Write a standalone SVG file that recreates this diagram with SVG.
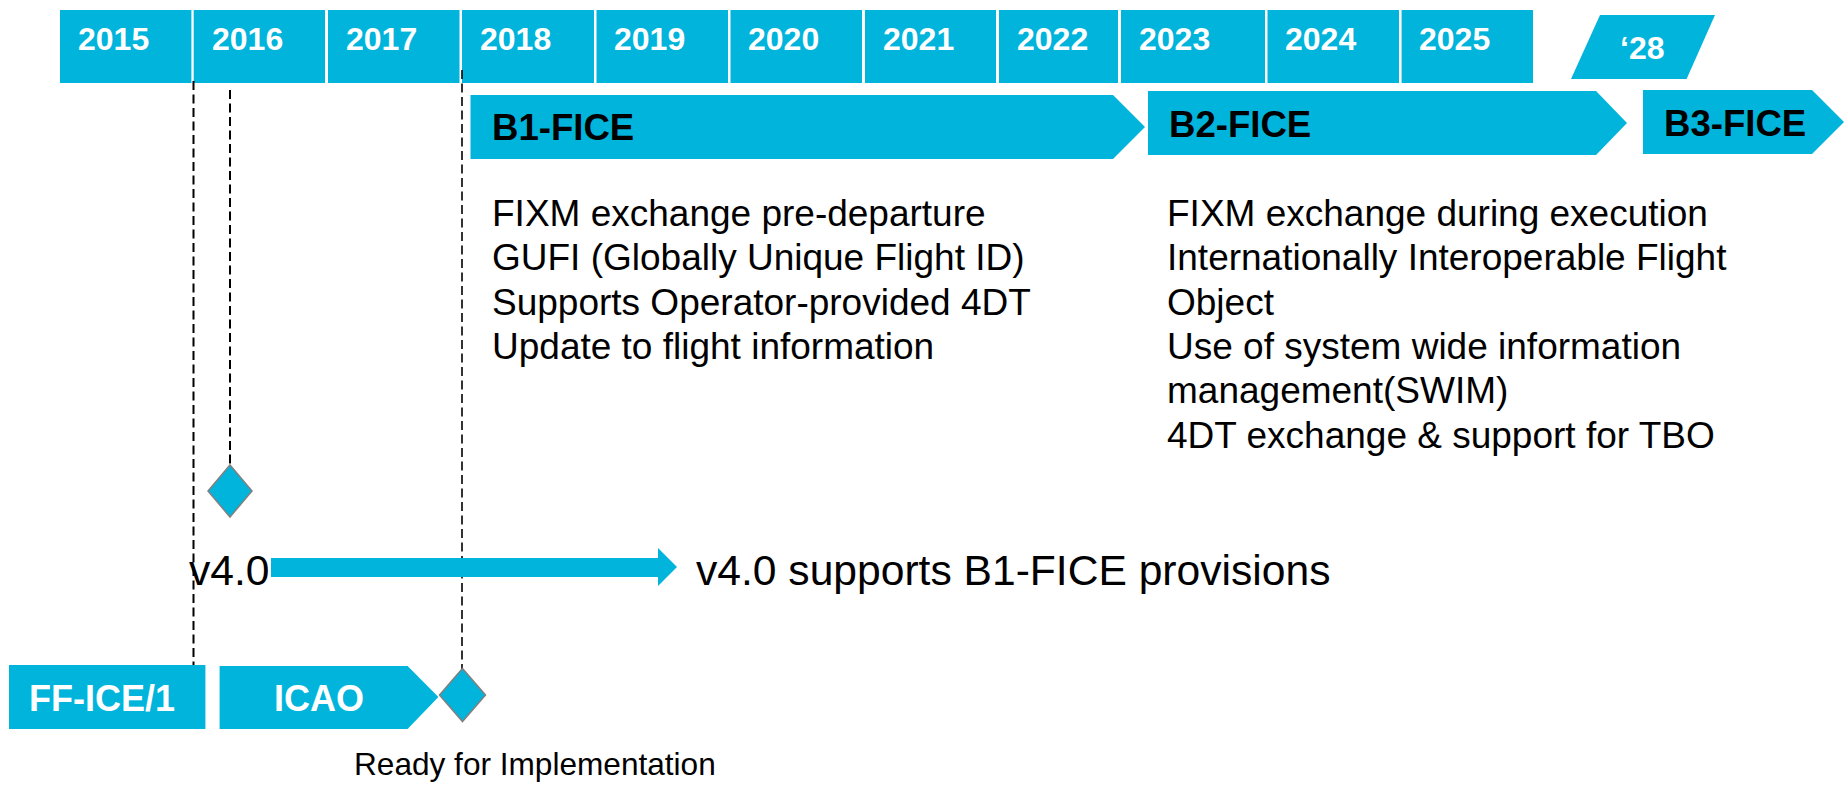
<svg xmlns="http://www.w3.org/2000/svg" width="1845" height="785" viewBox="0 0 1845 785">
<style>
.f{fill:#00b4dc}
.yr{font-family:"Liberation Sans",Arial,sans-serif;font-weight:bold;font-size:32px;fill:#fff}
.lbl{font-family:"Liberation Sans",Arial,sans-serif;font-weight:bold;font-size:36.6px;fill:#000}
.wl{font-family:"Liberation Sans",Arial,sans-serif;font-weight:bold;font-size:36px;fill:#fff}
.body{font-family:"Liberation Sans",Arial,sans-serif;font-size:37px;fill:#000}
.big{font-family:"Liberation Sans",Arial,sans-serif;font-size:42.6px;fill:#000}
.sm{font-family:"Liberation Sans",Arial,sans-serif;font-size:31.6px;fill:#000}
.dash{stroke:#000;stroke-width:2;stroke-dasharray:9 4.5;fill:none}
.dia{fill:#00b4dc;stroke:#808080;stroke-width:1.5}
</style>
<rect width="1845" height="785" fill="#fff"/>
<g id="years">
<rect class="f" x="60" y="10" width="131.4" height="73"/><text class="yr" x="78" y="50">2015</text>
<rect class="f" x="193.7" y="10" width="131.3" height="73"/><text class="yr" x="212" y="50">2016</text>
<rect class="f" x="328" y="10" width="131.5" height="73"/><text class="yr" x="346" y="50">2017</text>
<rect class="f" x="462" y="10" width="132" height="73"/><text class="yr" x="480" y="50">2018</text>
<rect class="f" x="596.5" y="10" width="131.5" height="73"/><text class="yr" x="614" y="50">2019</text>
<rect class="f" x="730.5" y="10" width="131.5" height="73"/><text class="yr" x="748" y="50">2020</text>
<rect class="f" x="865" y="10" width="131" height="73"/><text class="yr" x="883" y="50">2021</text>
<rect class="f" x="999" y="10" width="119" height="73"/><text class="yr" x="1017" y="50">2022</text>
<rect class="f" x="1121" y="10" width="144" height="73"/><text class="yr" x="1139" y="50">2023</text>
<rect class="f" x="1267.5" y="10" width="131.5" height="73"/><text class="yr" x="1285" y="50">2024</text>
<rect class="f" x="1401.6" y="10" width="131.4" height="73"/><text class="yr" x="1419" y="50">2025</text>
</g>
<g id="y28">
<polygon class="f" points="1600,15 1715,15 1686.6,79 1571,79"/>
<text class="yr" x="1620" y="59">‘28</text>
</g>
<g id="connectors">
<line class="dash" x1="193.5" y1="81" x2="193.5" y2="665"/>
<line class="dash" x1="230" y1="90" x2="230" y2="465"/>
<line class="dash" x1="462" y1="70" x2="462" y2="682" style="stroke-width:1.6"/>
<polygon class="f" points="271,558 658,558 658,548 677,567 658,586 658,577 271,577"/>
</g>
<g id="b1">
<polygon class="f" points="470.5,95 1113,95 1145,127 1113,159 470.5,159"/>
<text class="lbl" x="492" y="140">B1-FICE</text>
<text class="body" x="492" y="226">FIXM exchange pre-departure</text>
<text class="body" x="492" y="270.3">GUFI (Globally Unique Flight ID)</text>
<text class="body" x="492" y="314.6">Supports Operator-provided 4DT</text>
<text class="body" x="492" y="358.9">Update to flight information</text>
</g>
<g id="b2">
<polygon class="f" points="1148,91 1596,91 1627,123 1596,155 1148,155"/>
<text class="lbl" x="1169" y="137">B2-FICE</text>
<text class="body" x="1167" y="226">FIXM exchange during execution</text>
<text class="body" x="1167" y="270.3">Internationally Interoperable Flight</text>
<text class="body" x="1167" y="314.6">Object</text>
<text class="body" x="1167" y="358.9">Use of system wide information</text>
<text class="body" x="1167" y="403.2">management(SWIM)</text>
<text class="body" x="1167" y="447.5">4DT exchange &amp; support for TBO</text>
</g>
<g id="b3">
<polygon class="f" points="1643,90 1812,90 1844,122 1812,154 1643,154"/>
<text class="lbl" x="1664" y="136">B3-FICE</text>
</g>
<g id="m2016">
<polygon class="dia" points="230,465 252,491 230,517 208,491"/>
</g>
<g id="v40">
<text class="big" x="189" y="585">v4.0</text>
<text class="big" x="696" y="585">v4.0 supports B1-FICE provisions</text>
</g>
<g id="ffice">
<rect class="f" x="9" y="665" width="196.4" height="64"/>
<text class="wl" x="29" y="711">FF-ICE/1</text>
</g>
<g id="icao">
<polygon class="f" points="219.6,666 407.6,666 438.4,697 407.6,729 219.6,729"/>
<text class="wl" x="274" y="711">ICAO</text>
</g>
<g id="ready">
<polygon class="dia" points="462.5,668.5 485.5,695 462.5,721.5 439.5,695"/>
<text class="sm" x="354" y="775">Ready for Implementation</text>
</g>
</svg>
